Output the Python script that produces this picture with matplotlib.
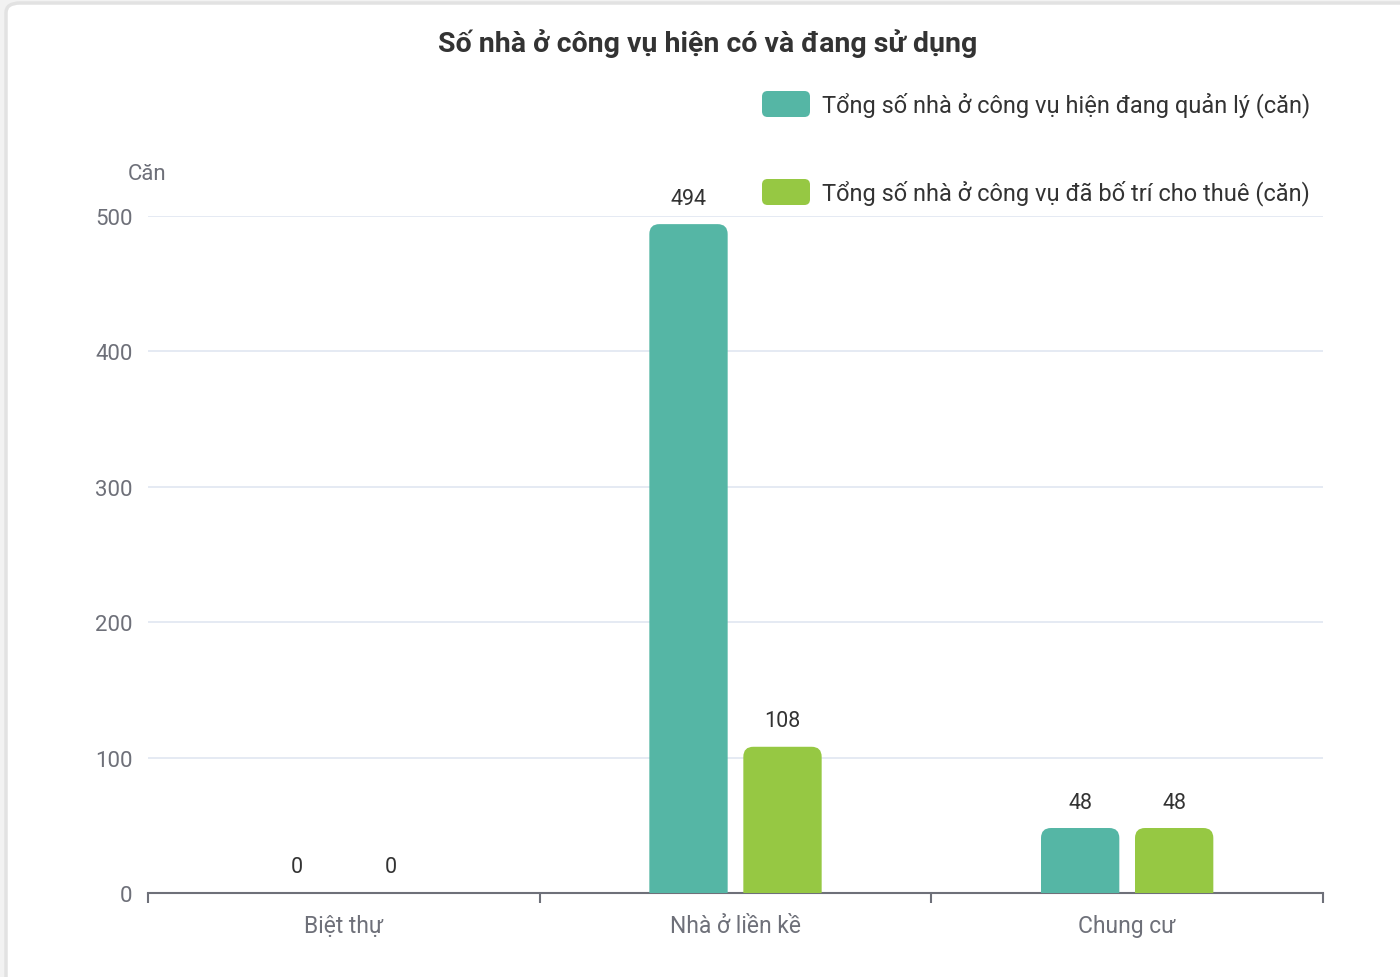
import matplotlib
matplotlib.use("Agg")
import matplotlib.pyplot as plt
from matplotlib.patches import FancyBboxPatch

categories = ["Biệt thự", "Nhà ở liền kề", "Chung cư"]
managed = [0, 494, 48]
rented = [0, 108, 48]
series_names = ["Tổng số nhà ở công vụ hiện đang quản lý (căn)",
                "Tổng số nhà ở công vụ đã bố trí cho thuê (căn)"]
yticks = [0, 100, 200, 300, 400, 500]

plt.rcParams['font.family'] = ['Roboto', 'DejaVu Sans']

W, H = 1400, 978
fig = plt.figure(figsize=(W / 100, H / 100), dpi=100)
fig.patch.set_facecolor("#f2f2f2")

# card background
card = FancyBboxPatch((6 / W, -0.1), 1.1, (H - 4) / H + 0.1,
                      boxstyle="round,pad=0,rounding_size=0.01",
                      transform=fig.transFigure, facecolor="white",
                      edgecolor="#e2e2e2", linewidth=2.5, zorder=-5)
fig.patches.append(card)

ax = fig.add_axes([148 / W, (H - 894) / H, (1323 - 148) / W, (894 - 217) / H])
ax.set_facecolor("none")
ax.set_zorder(2)
ax.set_xlim(-0.5, 2.5)
ax.set_ylim(0, 500)

colors = ["#55b6a5", "#96c843"]
bw = 0.2
off = 0.12
px_x = 3 / (1323 - 148)
px_y = 500 / (894 - 217)
radius = 10 * px_x
aspect = px_y / px_x

for i, (vals, c) in enumerate(zip([managed, rented], colors)):
    sign = -1 if i == 0 else 1
    for x, v in enumerate(vals):
        xc = x + sign * off
        if v > 0:
            p = FancyBboxPatch((xc - bw / 2, -30), bw, v + 30,
                               boxstyle="round,pad=0,rounding_size=%f" % radius,
                               mutation_aspect=aspect, facecolor=c,
                               edgecolor="none", zorder=3, clip_on=True)
            ax.add_patch(p)
        ax.text(xc, v + 26 * px_y, str(v), ha="center", va="center",
                fontsize=15.5, color="#333333", zorder=4, clip_on=False)

ax.set_yticks(yticks)
ax.set_yticklabels([str(t) for t in yticks])
ax.tick_params(axis="y", length=0, pad=11, labelsize=16, labelcolor="#6e7079")
ax.grid(axis="y", color="#e0e6f1", linewidth=1.2, zorder=0)
ax.set_axisbelow(True)

ax.set_xticks([-0.5, 0.5, 1.5, 2.5])
ax.set_xticklabels([])
ax.set_xticks(range(len(categories)), minor=True)
ax.set_xticklabels(categories, minor=True)
ax.tick_params(axis="x", which="major", length=7, width=1.5, color="#6e7079", direction="out")
ax.tick_params(axis="x", which="minor", length=0, pad=15, labelsize=16.5, labelcolor="#6e7079")

for s in ["top", "right", "left"]:
    ax.spines[s].set_visible(False)
ax.spines["bottom"].set_color("#6e7079")
ax.spines["bottom"].set_linewidth(1.5)

fig.text(147 / W, 1 - 174 / H, "Căn", ha="center", va="center",
         fontsize=16, color="#6e7079")

fig.text(708 / W, 1 - 44 / H, "Số nhà ở công vụ hiện có và đang sử dụng",
         ha="center", va="center", fontsize=20.5, fontweight="bold", color="#333333")

# legend
for yy, name, c in zip([105, 193], series_names, colors):
    sw = FancyBboxPatch((762 / W, 1 - (yy + 13) / H), 48 / W, 26 / H,
                        boxstyle="round,pad=0,rounding_size=0.004",
                        mutation_aspect=W / H, transform=fig.transFigure,
                        facecolor=c, edgecolor="none")
    fig.patches.append(sw)
    fig.text(822 / W, 1 - yy / H, name, ha="left", va="center",
             fontsize=17, color="#333333")

fig.savefig("out.png", dpi=100)
